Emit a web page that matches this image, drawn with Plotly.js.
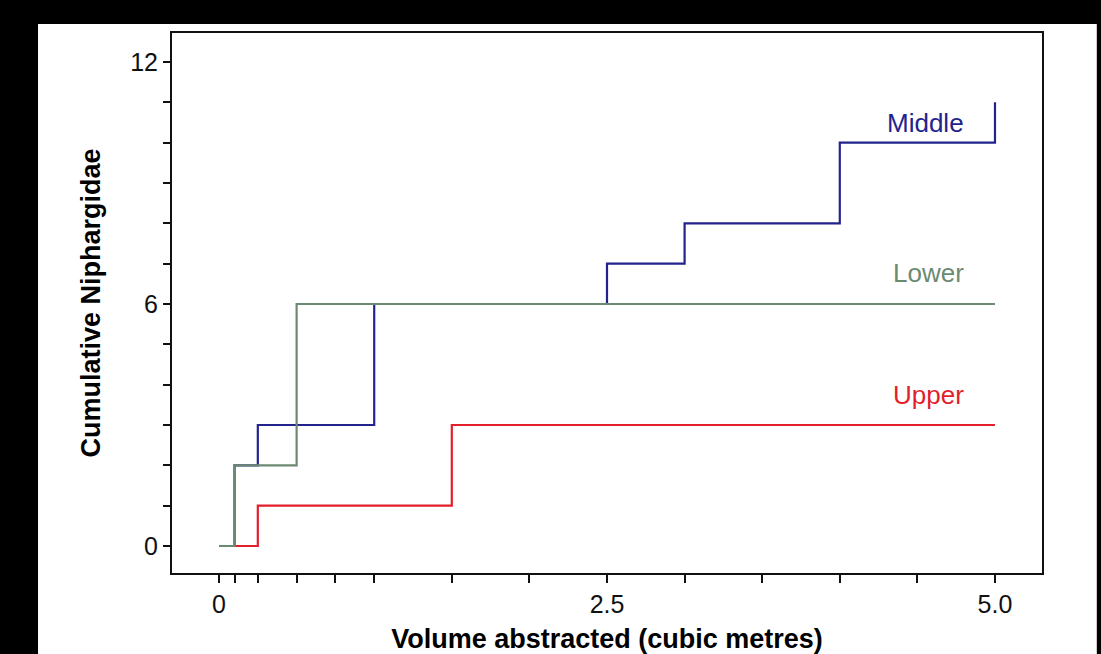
<!DOCTYPE html>
<html>
<head>
<meta charset="utf-8">
<script src="https://cdn.plot.ly/plotly-3.0.1.min.js"></script>
<style>
html,body{margin:0;padding:0;background:#000;}
#chart{width:1101px;height:654px;}
</style>
</head>
<body>
<div id="chart"></div>
<script>
// Data (cumulative Niphargidae vs. volume abstracted, step functions)
const middleVolume = [0, 0.1, 0.25, 1.0, 2.5, 3.0, 4.0, 5.0];
const middleCount  = [0, 2, 3, 6, 7, 8, 10, 11];
const upperVolume  = [0, 0.1, 0.25, 1.5, 5.0];
const upperCount   = [0, 0, 1, 3, 3];
const lowerVolume  = [0, 0.1, 0.5, 5.0];
const lowerCount   = [0, 2, 6, 6];

const xTickVals  = [0, 0.1, 0.25, 0.5, 0.75, 1.0, 1.5, 2.0, 2.5, 3.0, 3.5, 4.0, 4.5, 5.0];
const xTickText  = ['0', '', '', '', '', '', '', '', '2.5', '', '', '', '', '5.0'];
const yTickVals  = [0, 1, 2, 3, 4, 5, 6, 7, 8, 9, 10, 11, 12];
const yTickText  = ['0', '', '', '', '', '', '6', '', '', '', '', '', '12'];

const seriesNames = ['Middle', 'Upper', 'Lower'];
const labelY      = [10.5, 3.74, 6.77];
const labelX      = [4.55, 4.57, 4.57];

const colors = {Middle: '#23238e', Upper: '#e21f2b', Lower: '#6c8a72'};
const font = 'Arial, "Liberation Sans", sans-serif';

const traces = [
  {x: middleVolume, y: middleCount, name: 'Middle'},
  {x: upperVolume,  y: upperCount,  name: 'Upper'},
  {x: lowerVolume,  y: lowerCount,  name: 'Lower'}
].map(t => ({
  x: t.x, y: t.y, name: t.name, type: 'scatter', mode: 'lines',
  line: {shape: 'hv', color: colors[t.name], width: 2.2},
  hoverinfo: 'x+y+name'
}));

const annotations = seriesNames.map((n, i) => ({
  x: labelX[i], y: labelY[i], xref: 'x', yref: 'y',
  text: n, showarrow: false,
  font: {family: font, size: 26, color: colors[n]},
  xanchor: 'center', yanchor: 'middle'
}));

const layout = {
  width: 1101, height: 654,
  paper_bgcolor: '#000000',
  plot_bgcolor: '#ffffff',
  showlegend: false,
  margin: {l: 172, r: 59, t: 33, b: 81, pad: 0},
  font: {family: font, color: '#000'},
  shapes: [{
    type: 'rect', xref: 'paper', yref: 'paper',
    x0: -0.154, x1: 1.063, y0: -0.2, y1: 1.0167,
    fillcolor: '#ffffff', line: {width: 0}, layer: 'below'
  }],
  xaxis: {
    range: [-0.303, 5.303],
    tickmode: 'array', tickvals: xTickVals, ticktext: xTickText,
    ticks: 'outside', ticklen: 8, tickwidth: 2, tickcolor: '#111',
    showline: true, linecolor: '#111', linewidth: 2, mirror: true,
    showgrid: false, zeroline: false,
    tickfont: {family: font, size: 25, color: '#111'},
    title: {text: 'Volume abstracted (cubic metres)', standoff: 12,
            font: {family: font, size: 27, color: '#000', weight: 'bold'}}
  },
  yaxis: {
    range: [-0.67, 12.72],
    tickmode: 'array', tickvals: yTickVals, ticktext: yTickText,
    ticks: 'outside', ticklen: 7, tickwidth: 2, tickcolor: '#111',
    showline: true, linecolor: '#111', linewidth: 2, mirror: true,
    showgrid: false, zeroline: false,
    tickfont: {family: font, size: 25, color: '#111'},
    title: {text: 'Cumulative Niphargidae', standoff: 22,
            font: {family: font, size: 27, color: '#000', weight: 'bold'}}
  },
  annotations: annotations
};

Plotly.newPlot('chart', traces, layout, {displayModeBar: false});
</script>
</body>
</html>
